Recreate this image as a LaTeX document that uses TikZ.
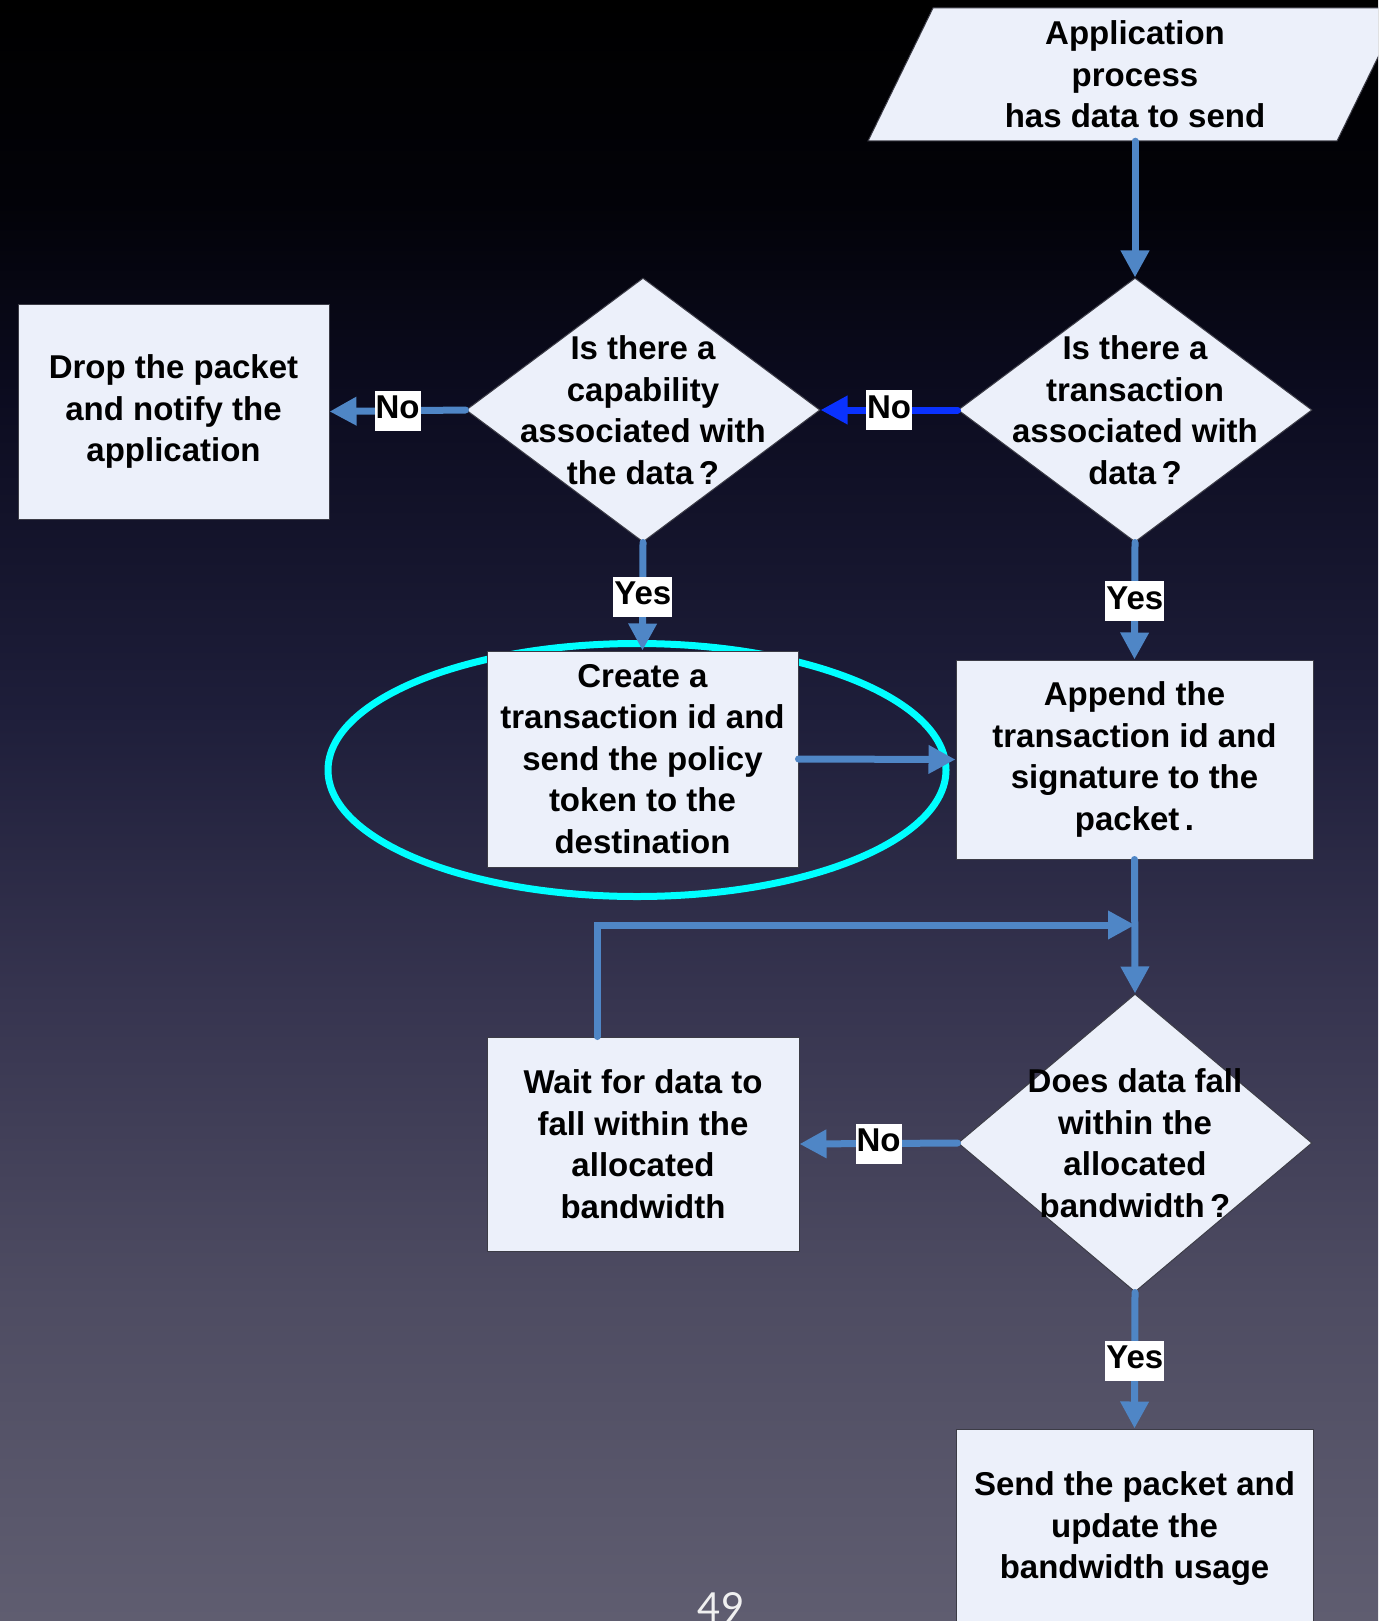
\documentclass[tikz,border=0pt]{standalone}
\usepackage{fontspec}
\setmainfont{Liberation Sans}
\newfontfamily\numfont{Lato}
\usetikzlibrary{shapes.geometric,arrows.meta}

\definecolor{boxfill}{RGB}{236,240,250}
\definecolor{boxedge}{RGB}{60,60,70}
\definecolor{flow}{RGB}{79,134,198}
\definecolor{flowbright}{RGB}{10,50,255}
\definecolor{ring}{RGB}{0,255,255}

% background tones, top to bottom
\definecolor{bgA}{RGB}{0,0,0}
\definecolor{bgB}{RGB}{2,2,8}
\definecolor{bgC}{RGB}{12,12,32}
\definecolor{bgD}{RGB}{30,30,58}
\definecolor{bgE}{RGB}{55,53,80}
\definecolor{bgF}{RGB}{78,76,98}
\definecolor{bgG}{RGB}{95,93,112}

\pgfdeclareverticalshading{slidebg}{100bp}{%
  color(0bp)=(bgG);
  color(25bp)=(bgG);
  color(35bp)=(bgF);
  color(44bp)=(bgE);
  color(53bp)=(bgD);
  color(62.7bp)=(bgC);
  color(68.8bp)=(bgB);
  color(75bp)=(bgA);
  color(100bp)=(bgA)}

\tikzset{
  txt/.style={font=\fontsize{33pt}{41.5pt}\selectfont\bfseries, text=black, align=center},
  procbox/.style={txt, rectangle, draw=boxedge, line width=1pt, fill=boxfill, inner sep=0pt},
  decision/.style={diamond, draw=boxedge, line width=1pt, fill=boxfill, inner sep=0pt,
    minimum width=354pt},
  flowline/.style={draw=flow, line width=7pt, line cap=round,
    -{Triangle[length=27pt,width=27pt]}},
  tag/.style={txt, fill=white, inner xsep=1pt, inner ysep=4pt,
    text height=24pt, text depth=8pt},
}

\begin{document}
\begin{tikzpicture}[x=1pt, y=-1pt]
  \useasboundingbox (0,0) rectangle (1378,1621);
  \begin{scope}
    \clip (0,0) rectangle (1378,1621);
    \fill[shading=slidebg] (0,0) rectangle (1378,1621);

    % highlight ring around the token step
    \node[ellipse, draw=ring, line width=7pt, minimum width=618pt, minimum height=253pt]
      (ring) at (637,770) {};

    % input parallelogram
    \fill[boxfill, draw=boxedge, line width=1pt]
      (868,141) -- (1337,141) -- (1402,8) -- (933,8) -- cycle;
    \node[txt, minimum height=133pt] (app) at (1135,74.5)
      {Application\\process\\has data to send};

    % decisions
    \node[decision, minimum height=264pt] (trans) at (1135,410) {};
    \node[txt] (transtext) at (trans) {Is there a\\transaction\\associated with\\data\,?};
    \node[decision, minimum height=264pt] (cap) at (643,410) {};
    \node[txt] (captext) at (cap) {Is there a\\capability\\associated with\\the data\,?};
    \node[decision, minimum height=298pt] (bw) at (1135,1143) {};
    \node[txt] (bwtext) at (bw) {Does data fall\\within the\\allocated\\bandwidth\,?};

    % process boxes
    \node[procbox, minimum width=311pt, minimum height=215pt] (drop) at (173.5,411.5)
      {Drop the packet\\and notify the\\application};
    \node[procbox, minimum width=311pt, minimum height=216pt] (create) at (642.5,759)
      {Create a\\transaction id and\\send the policy\\token to the\\destination};
    \node[procbox, minimum width=357pt, minimum height=199pt] (append) at (1134.5,759.5)
      {Append the\\transaction id and\\signature to the\\packet\,.};
    \node[procbox, minimum width=312pt, minimum height=214pt] (wait) at (643,1144)
      {Wait for data to\\fall within the\\allocated\\bandwidth};
    \node[procbox, minimum width=357pt, minimum height=200pt] (send) at (1134.5,1529)
      {Send the packet and\\update the\\bandwidth usage};

    % connectors
    \coordinate (merge) at (1135,925);
    \draw[flowline] (app.south) -- (trans.north);
    \draw[flowline, draw=flowbright, -{Triangle[length=27pt,width=27pt,fill=flowbright]}]
      (trans.west) -- (cap.east) node[tag, midway] (no1) {No};
    \draw[flowline] (cap.west) -- (drop.east) node[tag, midway] (no2) {No};
    \draw[flowline] (cap.south) -- (create.north) node[tag, midway] (yes1) {Yes};
    \draw[flowline] (trans.south) -- (append.north) node[tag, midway] (yes2) {Yes};
    \draw[flowline] (create.east) -- (append.west);
    \draw[flowline] (append.south) -- (bw.north);
    \draw[flowline] ([xshift=-46pt]wait.north) |- (merge);
    \draw[flowline] (bw.west) -- (wait.east) node[tag, midway] (no3) {No};
    \draw[flowline] (bw.south) -- (send.north) node[tag, midway] (yes3) {Yes};

    % slide number
    \node[font=\numfont\fontsize{40pt}{40pt}\selectfont, text=white!88!gray] (pageno)
      at (721,1607) {49};
  \end{scope}
\end{tikzpicture}
\end{document}
